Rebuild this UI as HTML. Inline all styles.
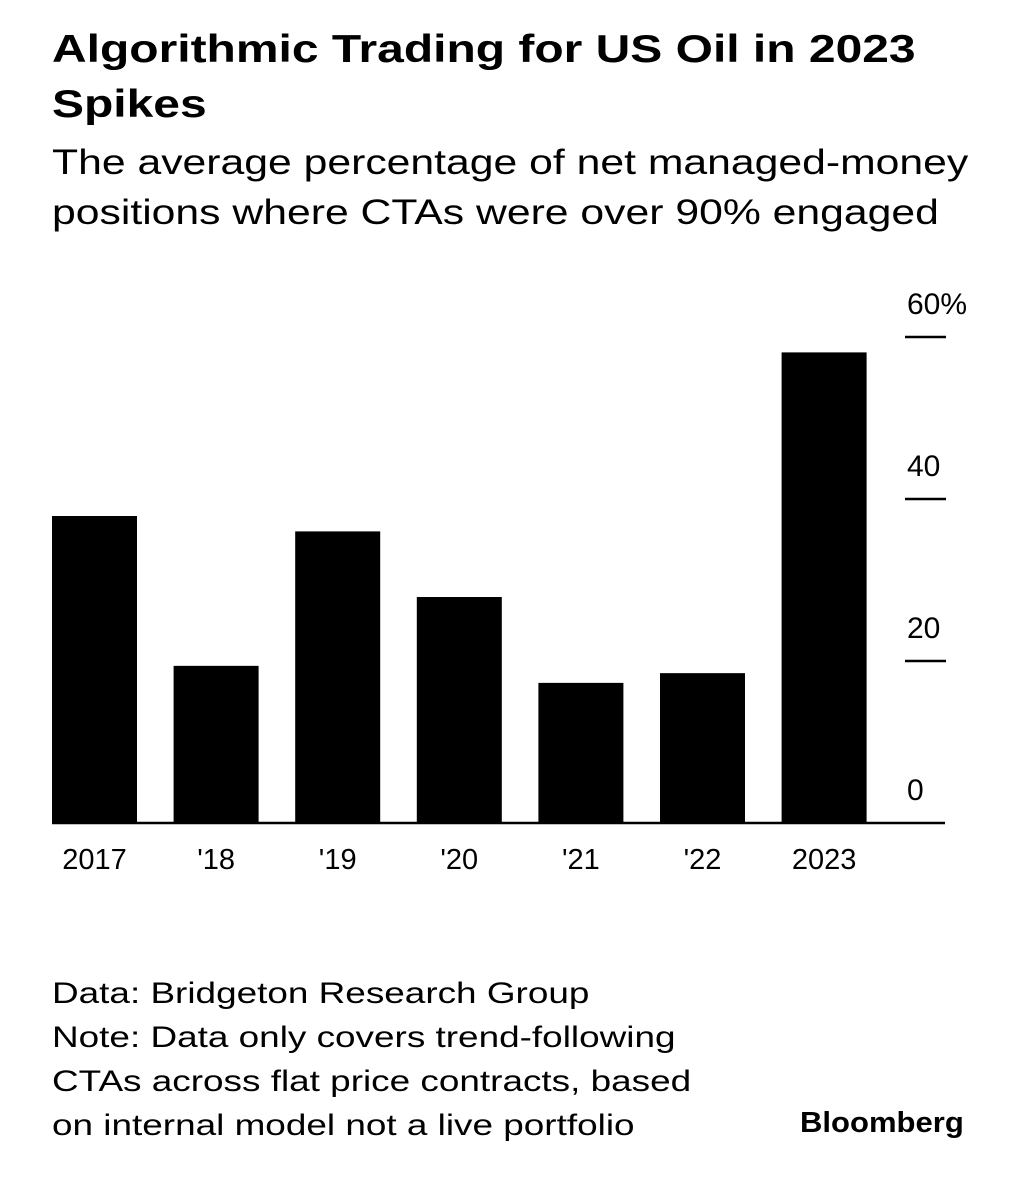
<!DOCTYPE html>
<html><head><meta charset="utf-8"><style>
body{margin:0;background:#fff;width:1025px;height:1200px;overflow:hidden;font-family:"Liberation Sans",sans-serif;color:#000}
.t{position:absolute;left:52px;white-space:nowrap;transform-origin:0 0}
</style></head><body>
<div class="t" style="top:22px;font-size:39px;font-weight:bold;line-height:55px;transform:scaleX(1.23)">Algorithmic Trading for US Oil in 2023<br>Spikes</div>
<div class="t" style="top:138px;font-size:35px;line-height:50px;transform:scaleX(1.22)">The average percentage of net managed-money<br>positions where CTAs were over 90% engaged</div>
<svg id="chart" width="1025" height="1200" style="position:absolute;left:0;top:0" font-family="Liberation Sans, sans-serif"></svg>
<div class="t" style="top:972px;font-size:30px;line-height:44px;transform:scaleX(1.23)">Data: Bridgeton Research Group<br>Note: Data only covers trend-following<br>CTAs across flat price contracts, based<br>on internal model not a live portfolio</div>
<div class="t" style="left:800px;top:1107px;font-size:29px;font-weight:bold;transform:scaleX(1.07)">Bloomberg</div>
<script>
const categories=["2017","'18","'19","'20","'21","'22","2023"];
const values=[37.9,19.4,36,27.9,17.3,18.5,58.1];
const yTicks=[0,20,40,60];
const yTickLabels=["0","20","40","60%"];
const svg=document.getElementById('chart');
const NS='http://www.w3.org/2000/svg';
const y0=823,pxPer=162/20;
const y=v=>y0-v*pxPer;
const x=i=>52+i*121.6;
const bw=85;
function mk(t,a){const e=document.createElementNS(NS,t);for(const k in a)e.setAttribute(k,a[k]);svg.appendChild(e);return e;}
values.forEach((v,i)=>{
 const r=mk('rect',{x:x(i),y:y(v),width:bw,height:y0-y(v),fill:'#000'});
 
 
 const t=mk('text',{x:x(i)+bw/2,y:869,'text-anchor':'middle','font-size':29});
 t.textContent=categories[i];
 
 
});
yTicks.forEach((v,i)=>{
 if(v>0){const l=mk('line',{x1:905,x2:946,y1:y(v),y2:y(v),stroke:'#000','stroke-width':2.5});
 
 }
 const t=mk('text',{x:907,y:y(v)-23,'font-size':30});
 t.textContent=yTickLabels[i];
 
 
});
const ax=mk('line',{x1:52,x2:945,y1:y0,y2:y0,stroke:'#000','stroke-width':2.5});


</script>
</body></html>
